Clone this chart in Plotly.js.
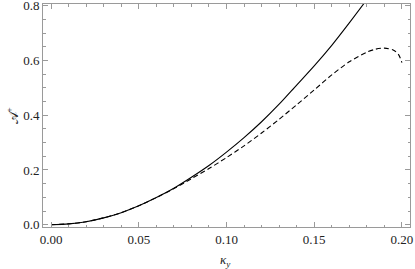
<!DOCTYPE html>
<html>
<head>
<meta charset="utf-8">
<script src="https://cdn.plot.ly/plotly-3.0.1.min.js"></script>
<style>html,body{margin:0;padding:0;background:#fff;}#chart{width:415px;height:269px;}</style>
</head>
<body>
<div id="chart"></div>
<script>
// Solid curve
var kSolid = [0.00, 0.01, 0.02, 0.03, 0.04, 0.05, 0.06, 0.07, 0.08, 0.09, 0.10, 0.11, 0.12, 0.13, 0.14, 0.15, 0.16, 0.17, 0.18];
var aSolid = [0.000, 0.003, 0.011, 0.025, 0.044, 0.069, 0.099, 0.133, 0.173, 0.216, 0.265, 0.318, 0.376, 0.440, 0.510, 0.580, 0.655, 0.737, 0.822];
// Dashed curve
var kDashed = [0.00, 0.01, 0.02, 0.03, 0.04, 0.05, 0.06, 0.07, 0.08, 0.09, 0.10, 0.11, 0.12, 0.13, 0.14, 0.15, 0.16, 0.17, 0.18, 0.185, 0.19, 0.195, 0.198, 0.200];
var aDashed = [0.000, 0.003, 0.011, 0.025, 0.044, 0.069, 0.099, 0.132, 0.168, 0.205, 0.245, 0.288, 0.335, 0.385, 0.438, 0.492, 0.547, 0.595, 0.630, 0.641, 0.645, 0.638, 0.622, 0.592];

var xTickVals = [0.00, 0.05, 0.10, 0.15, 0.20];
var xTickText = ["0.00", "0.05", "0.10", "0.15", "0.20"];
var yTickVals = [0.0, 0.2, 0.4, 0.6, 0.8];
var yTickText = ["0.0", "0.2", "0.4", "0.6", "0.8"];
var xTitle = '<i>κ</i><sub><i>y</i></sub>';
var yTitle = '𝒜<sup>+</sup>';

var traces = [
  {x: kSolid, y: aSolid, mode: 'lines', line: {color: '#000', width: 1.1, shape: 'spline', smoothing: 0.8}, hoverinfo: 'skip'},
  {x: kDashed, y: aDashed, mode: 'lines', line: {color: '#000', width: 1.1, dash: '5px,3px', shape: 'spline', smoothing: 0.8}, hoverinfo: 'skip'}
];

var frameColor = '#9a9a9a';
var font = {family: 'Liberation Serif, Times New Roman, DejaVu Serif, serif', size: 13, color: '#222'};

var layout = {
  width: 415, height: 269,
  margin: {l: 43, r: 5, t: 4, b: 42},
  paper_bgcolor: '#fff', plot_bgcolor: '#fff',
  showlegend: false,
  font: font,
  xaxis: {
    range: [-0.0046, 0.2046],
    tickvals: xTickVals, ticktext: xTickText,
    ticks: 'inside', ticklen: 5, tickwidth: 1, tickcolor: frameColor,
    minor: {dtick: 0.01, ticks: 'inside', ticklen: 2.5, tickcolor: frameColor, tickwidth: 1},
    showline: true, linecolor: frameColor, linewidth: 1, mirror: 'ticks',
    showgrid: false, zeroline: false,
    tickfont: font, ticklabeloverflow: 'allow'
  },
  yaxis: {
    range: [-0.0084, 0.806],
    tickvals: yTickVals, ticktext: yTickText,
    ticks: 'inside', ticklen: 5, tickwidth: 1, tickcolor: frameColor,
    minor: {dtick: 0.05, ticks: 'inside', ticklen: 2.5, tickcolor: frameColor, tickwidth: 1},
    showline: true, linecolor: frameColor, linewidth: 1, mirror: 'ticks',
    showgrid: false, zeroline: false,
    tickfont: font, ticklabeloverflow: 'allow'
  },
  annotations: [
    {text: xTitle, xref: 'paper', yref: 'paper', x: 0.4986, y: -0.148, xanchor: 'center', yanchor: 'middle', showarrow: false, font: font},
    {text: yTitle, xref: 'paper', yref: 'paper', x: -0.0845, y: 0.50, xanchor: 'center', yanchor: 'middle', showarrow: false, textangle: -90, font: font}
  ]
};

Plotly.newPlot('chart', traces, layout, {staticPlot: true, displayModeBar: false});
</script>
</body>
</html>
